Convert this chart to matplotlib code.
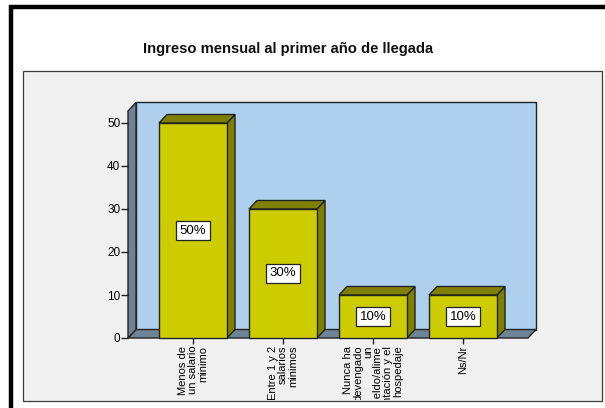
import matplotlib
matplotlib.use("Agg")
import matplotlib.pyplot as plt
from matplotlib.patches import Polygon, Rectangle
from matplotlib.lines import Line2D
from matplotlib.transforms import Bbox, TransformedBbox

plt.rcParams['font.family'] = ['Liberation Sans', 'DejaVu Sans']

title = "Ingreso mensual al primer año de llegada"
categories = ["Menos de\nun salario\nminimo",
              "Entre 1 y 2\nsalarios\nminimos",
              "Nunca ha\ndevengado\nun\nsueldo/alime\nntación y el\nhospedaje",
              "Ns/Nr"]
values = [50, 30, 10, 10]
labels = ["50%", "30%", "10%", "10%"]
yticks = [0, 10, 20, 30, 40, 50]

W, H = 605, 408
fig = plt.figure(figsize=(W / 100, H / 100), dpi=100)
fig.patch.set_facecolor('white')

def fx(px):
    return px / W

def fy(py):
    return 1 - py / H

# outer black frame (top and left)
fig.add_artist(Line2D([fx(10.5), fx(10.5), 1.0], [0.0, fy(7), fy(7)],
                      color='black', lw=3.2, transform=fig.transFigure,
                      solid_joinstyle='miter', zorder=-5))
# gray panel
fig.add_artist(Rectangle((fx(23), fy(401)), fx(602) - fx(23), fy(71) - fy(401),
                         transform=fig.transFigure, facecolor='#f0f0f0',
                         edgecolor='#3c3c3c', lw=0.9, zorder=-5))

fig.text(fx(288), fy(49), title, ha='center', va='center',
         fontsize=10.6, fontweight='bold', color='#111111')

# plot axes: front plane
left_px, right_px, bot_px, top_px = 128, 528, 338, 111
ax = fig.add_axes([fx(left_px), fy(bot_px), fx(right_px) - fx(left_px),
                   fy(top_px) - fy(bot_px)])
ax.set_zorder(1)
n = len(categories)
margin = 65 / 90
x0, x1 = -margin, n - 1 + margin
ymax = (bot_px - top_px) / 4.3
ax.set_xlim(x0, x1)
ax.set_ylim(0, ymax)
ax.patch.set_visible(False)
for s in ax.spines.values():
    s.set_visible(False)

# depth offsets in data units
ddx = 8 / 90
ddy = 8.5 / 4.3

wall = '#6e8396'
edge = '#222222'
# back wall
ax.add_patch(Polygon([(x0 + ddx, ddy), (x1 + ddx, ddy), (x1 + ddx, ymax + ddy),
                      (x0 + ddx, ymax + ddy)], closed=True, facecolor='#aed0ee',
                     edgecolor=edge, lw=1.0, clip_on=False, zorder=0))
# floor
ax.add_patch(Polygon([(x0, 0), (x1, 0), (x1 + ddx, ddy), (x0 + ddx, ddy)],
                     closed=True, facecolor=wall, edgecolor=edge, lw=1.0,
                     clip_on=False, zorder=1))
# left wall
ax.add_patch(Polygon([(x0, 0), (x0 + ddx, ddy), (x0 + ddx, ymax + ddy), (x0, ymax)],
                     closed=True, facecolor=wall, edgecolor=edge, lw=1.0,
                     clip_on=False, zorder=1))

bw = 68 / 90
front = '#cccc00'
dark = '#808000'
xs = list(range(n))
for i, v in zip(xs, values):
    l, r = i - bw / 2, i + bw / 2
    ax.add_patch(Polygon([(r, 0), (r + ddx, ddy), (r + ddx, v + ddy), (r, v)],
                         closed=True, facecolor=dark, edgecolor=edge, lw=1.0,
                         clip_on=False, zorder=3))
    ax.add_patch(Polygon([(l, v), (l + ddx, v + ddy), (r + ddx, v + ddy), (r, v)],
                         closed=True, facecolor=dark, edgecolor=edge, lw=1.0,
                         clip_on=False, zorder=3))
ax.bar(xs, values, width=bw, color=front, edgecolor=edge, lw=1.0, zorder=4,
       clip_on=False)
for i, v, lab in zip(xs, values, labels):
    ax.text(i, v / 2, lab, ha='center', va='center', fontsize=9.5, zorder=6,
            bbox=dict(boxstyle='square,pad=0.25', facecolor='white',
                      edgecolor='#222222', lw=0.9))

ax.set_yticks(yticks)
ax.set_yticklabels([str(t) for t in yticks])
ax.set_xticks(xs)
ax.set_xticklabels(categories, rotation=90, ha='center', va='top',
                   multialignment='right', linespacing=1.0)
ax.tick_params(axis='y', length=5, width=1.0, pad=0.5, labelsize=8.5, color='#222222')
ax.tick_params(axis='x', length=4, width=1.0, pad=1.5, labelsize=8, color='#222222')

clip = TransformedBbox(Bbox.from_extents(fx(23), fy(400), fx(602), fy(71)),
                       fig.transFigure)
for t in ax.get_xticklabels():
    t.set_clip_box(clip)
    t.set_clip_on(True)

fig.savefig('out.png', dpi=100, facecolor='white')
